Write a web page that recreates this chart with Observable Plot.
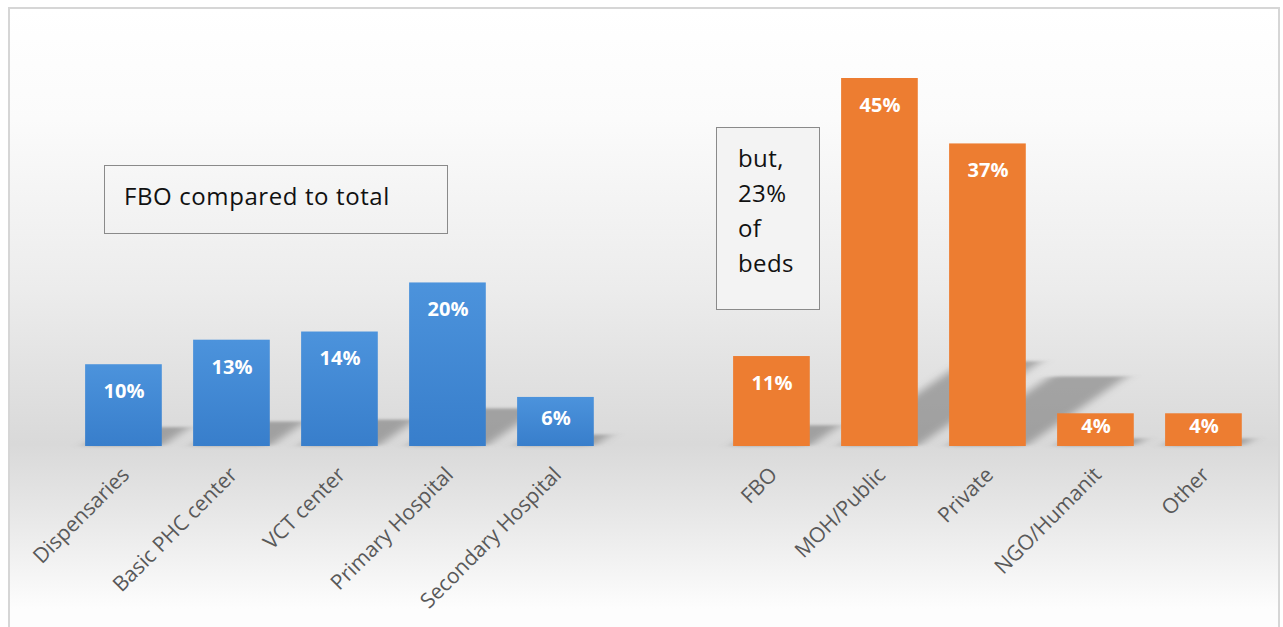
<!DOCTYPE html>
<html>
<head>
<meta charset="utf-8">
<script src="https://cdn.jsdelivr.net/npm/d3@7"></script>
<script src="https://cdn.jsdelivr.net/npm/@observablehq/plot@0.6"></script>
<style>
  html, body { margin: 0; padding: 0; background: #ffffff; }
  #stage { position: relative; width: 1283px; height: 627px; overflow: hidden; font-family: "Open Sans", sans-serif; }
  #frame { position: absolute; left: 8px; top: 7px; width: 1272px; height: 640px; box-sizing: border-box;
    border: 2px solid #d6d6d6;
    background: linear-gradient(to bottom, #ffffff 0px, #fbfbfb 110px, #ececec 280px, #d9d9d9 435px, #e6e6e6 500px, #fdfdfd 600px); }
  #chart { position: absolute; left: 0; top: 0; }
  .box { position: absolute; box-sizing: border-box; border: 1.5px solid #8a8a8a; color: #111; }
  #box1 { left: 104px; top: 165px; width: 344px; height: 69px; font-size: 24px; letter-spacing: 0.6px; padding: 14px 0 0 19px; line-height: 32px; }
  #box2 { left: 716px; top: 127px; width: 104px; height: 183px; background: #f3f3f3; font-size: 24px; letter-spacing: 0.4px; padding: 12px 0 0 21px; line-height: 35px; }
</style>
</head>
<body>
<div id="stage">
  <div id="frame"></div>
  <div id="chart"></div>
  <div class="box" id="box1">FBO compared to total</div>
  <div class="box" id="box2">but,<br>23%<br>of<br>beds</div>
</div>
<script>
// Facility types: FBO share compared to total
const facilityTypes = ["Dispensaries", "Basic PHC center", "VCT center", "Primary Hospital", "Secondary Hospital"];
const facilityShares = [10, 13, 14, 20, 6];
// Share of hospital beds by owner
const ownerTypes = ["FBO", "MOH/Public", "Private", "NGO/Humanit", "Other"];
const bedShares = [11, 45, 37, 4, 4];
const spacer = " ";

const data = [
  ...facilityTypes.map((c, i) => ({cat: c, value: facilityShares[i], group: "facility"})),
  ...ownerTypes.map((c, i) => ({cat: c, value: bedShares[i], group: "beds"}))
];
const domain = [...facilityTypes, spacer, ...ownerTypes];
const categories = [...facilityTypes, ...ownerTypes];

function defs() {
  const ns = "http://www.w3.org/2000/svg";
  const d = document.createElementNS(ns, "defs");
  d.innerHTML = `
    <linearGradient id="blueGrad" x1="0" y1="0" x2="0" y2="1">
      <stop offset="0" stop-color="#4c93dc"/>
      <stop offset="1" stop-color="#387ecb"/>
    </linearGradient>
    <filter id="shadowBlur" x="-50%" y="-50%" width="200%" height="200%">
      <feGaussianBlur stdDeviation="7"/>
    </filter>`;
  return d;
}

const plot = Plot.plot({
  width: 1283,
  height: 627,
  marginTop: 0, marginBottom: 0, marginLeft: 0, marginRight: 0,
  style: {background: "transparent", fontFamily: "'Open Sans', sans-serif", overflow: "visible"},
  x: {type: "band", domain, range: [53.8, 1273.1], padding: 0.29, round: false, axis: null},
  y: {domain: [0, 45], range: [446, 78], axis: null},
  marks: [
    defs,
    Plot.barY(data, {x: "cat", y: "value", fill: "#666666", fillOpacity: 0.5}),
    Plot.barY(data, {x: "cat", y: "value", fill: d => d.group === "facility" ? "url(#blueGrad)" : "#ed7d31"}),
    Plot.text(data, {
      x: "cat",
      y: d => Math.max(d.value / 2 + 0.4, d.value - 3.3),
      text: d => `${d.value}%`,
      fill: "white", fontWeight: "bold", fontSize: 20, lineAnchor: "middle",
      style: {letterSpacing: "1px"}
    }),
    Plot.text(categories, {
      x: d => d, y: 0, text: d => d,
      rotate: -45, textAnchor: "end", lineAnchor: "top",
      dx: -4, dy: 19, fontSize: 21, fill: "#595959",
      style: {letterSpacing: "0.3px"}
    })
  ]
});

// Perspective shadows: skew each shadow bar up-right from the baseline
const y0 = plot.scale("y").apply(0);
const s = 0.23, k = 1.45;
const sg = plot.querySelectorAll('g[aria-label="bar"]')[0];
if (sg) {
  const ns = "http://www.w3.org/2000/svg";
  const wrap = document.createElementNS(ns, "g");
  sg.parentNode.insertBefore(wrap, sg);
  wrap.appendChild(sg);
  wrap.setAttribute("transform", `matrix(1,0,${-k * s},${s},${k * s * y0},${y0 * (1 - s)})`);
  wrap.setAttribute("filter", "url(#shadowBlur)");
}

document.getElementById("chart").appendChild(plot);
</script>
</body>
</html>
